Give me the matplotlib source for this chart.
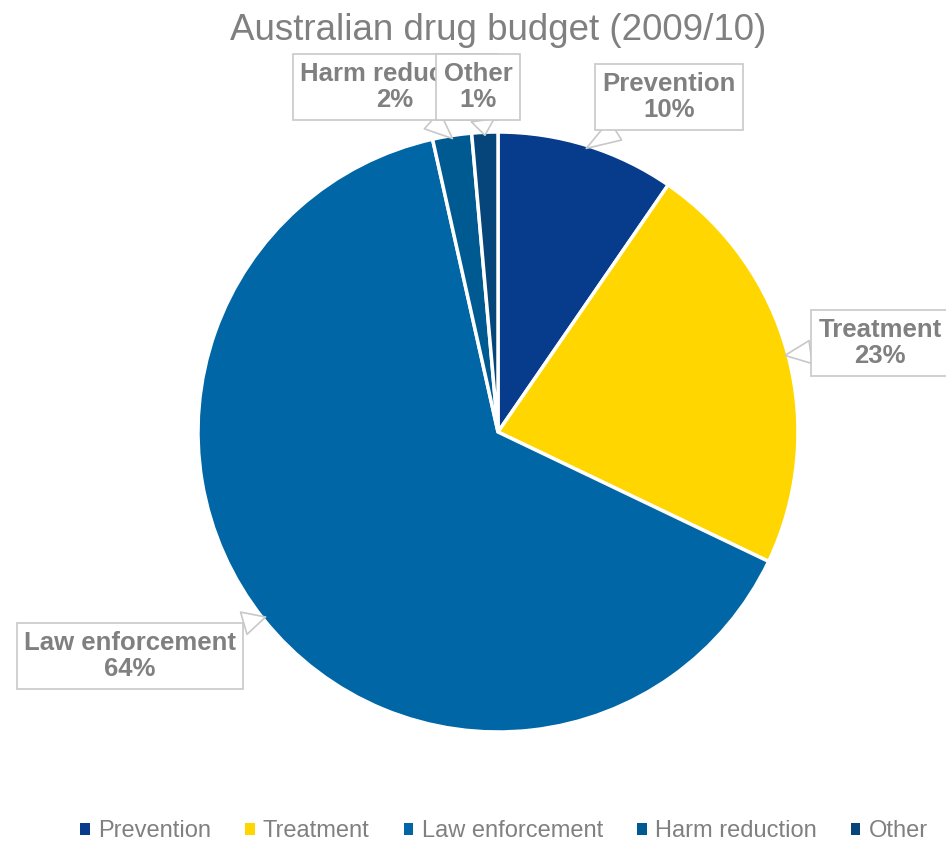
import numpy as np
import matplotlib.pyplot as plt

plt.rcParams['font.family'] = ['Liberation Sans', 'DejaVu Sans']

# Daten
categories = ["Prevention", "Treatment", "Law enforcement", "Harm reduction", "Other"]
shares = [9.6, 22.5, 64.4, 2.1, 1.4]
pct_labels = ["10%", "23%", "64%", "2%", "1%"]
colors = ["#073B8C", "#FFD600", "#0066A6", "#005A92", "#06457A"]

# Position der Beschriftungskaesten (Bildpixel, Mitte des Kastens)
label_pos = [(669, 97), (880, 343), (130, 656), (395, 87), (478, 87)]

W, H = 946, 842
fig = plt.figure(figsize=(W / 100, H / 100), dpi=100)
ax = fig.add_axes([(498 - 300) / W, (842 - 732) / H, 600 / W, 600 / H])

wedges, _ = ax.pie(shares, colors=colors, startangle=90, counterclock=False,
                   radius=1.0, wedgeprops=dict(edgecolor="white", linewidth=2.5))
ax.set_xlim(-1, 1)
ax.set_ylim(-1, 1)
ax.set_aspect("equal")
ax.axis("off")

grey = "#808080"
for i, (w, name, pct, (px, py)) in enumerate(zip(wedges, categories, pct_labels, label_pos)):
    mid = np.radians((w.theta1 + w.theta2) / 2)
    tip = (0.99 * np.cos(mid), 0.99 * np.sin(mid))
    # spaetere Kaesten liegen oben (Other deckt Harm reduction teilweise ab)
    ax.annotate(name + "\n" + pct, xy=tip, xycoords="data",
                xytext=(px, H - py), textcoords="figure pixels",
                ha="center", va="center", fontsize=18.5, fontweight="bold",
                color=grey, linespacing=1.15, zorder=5 + i,
                bbox=dict(boxstyle="square,pad=0.28", fc="white", ec="#c8c8c8", lw=1.2),
                arrowprops=dict(arrowstyle="wedge,tail_width=0.9", fc="white",
                                ec="#c8c8c8", lw=1.2, shrinkA=0, shrinkB=0),
                annotation_clip=False)

fig.text(498 / W, 1 - 30 / H, "Australian drug budget (2009/10)", ha="center",
         va="center", fontsize=26.5, color=grey)

leg = fig.legend(wedges, categories, loc="center", bbox_to_anchor=(504 / W, 1 - 831 / H),
                 ncol=5, frameon=False, fontsize=17, handlelength=0.4, handleheight=0.4,
                 handletextpad=0.35, columnspacing=1.45, labelcolor=grey)
for h in leg.legend_handles:
    h.set_edgecolor("none")

fig.savefig("out.png", dpi=100)
